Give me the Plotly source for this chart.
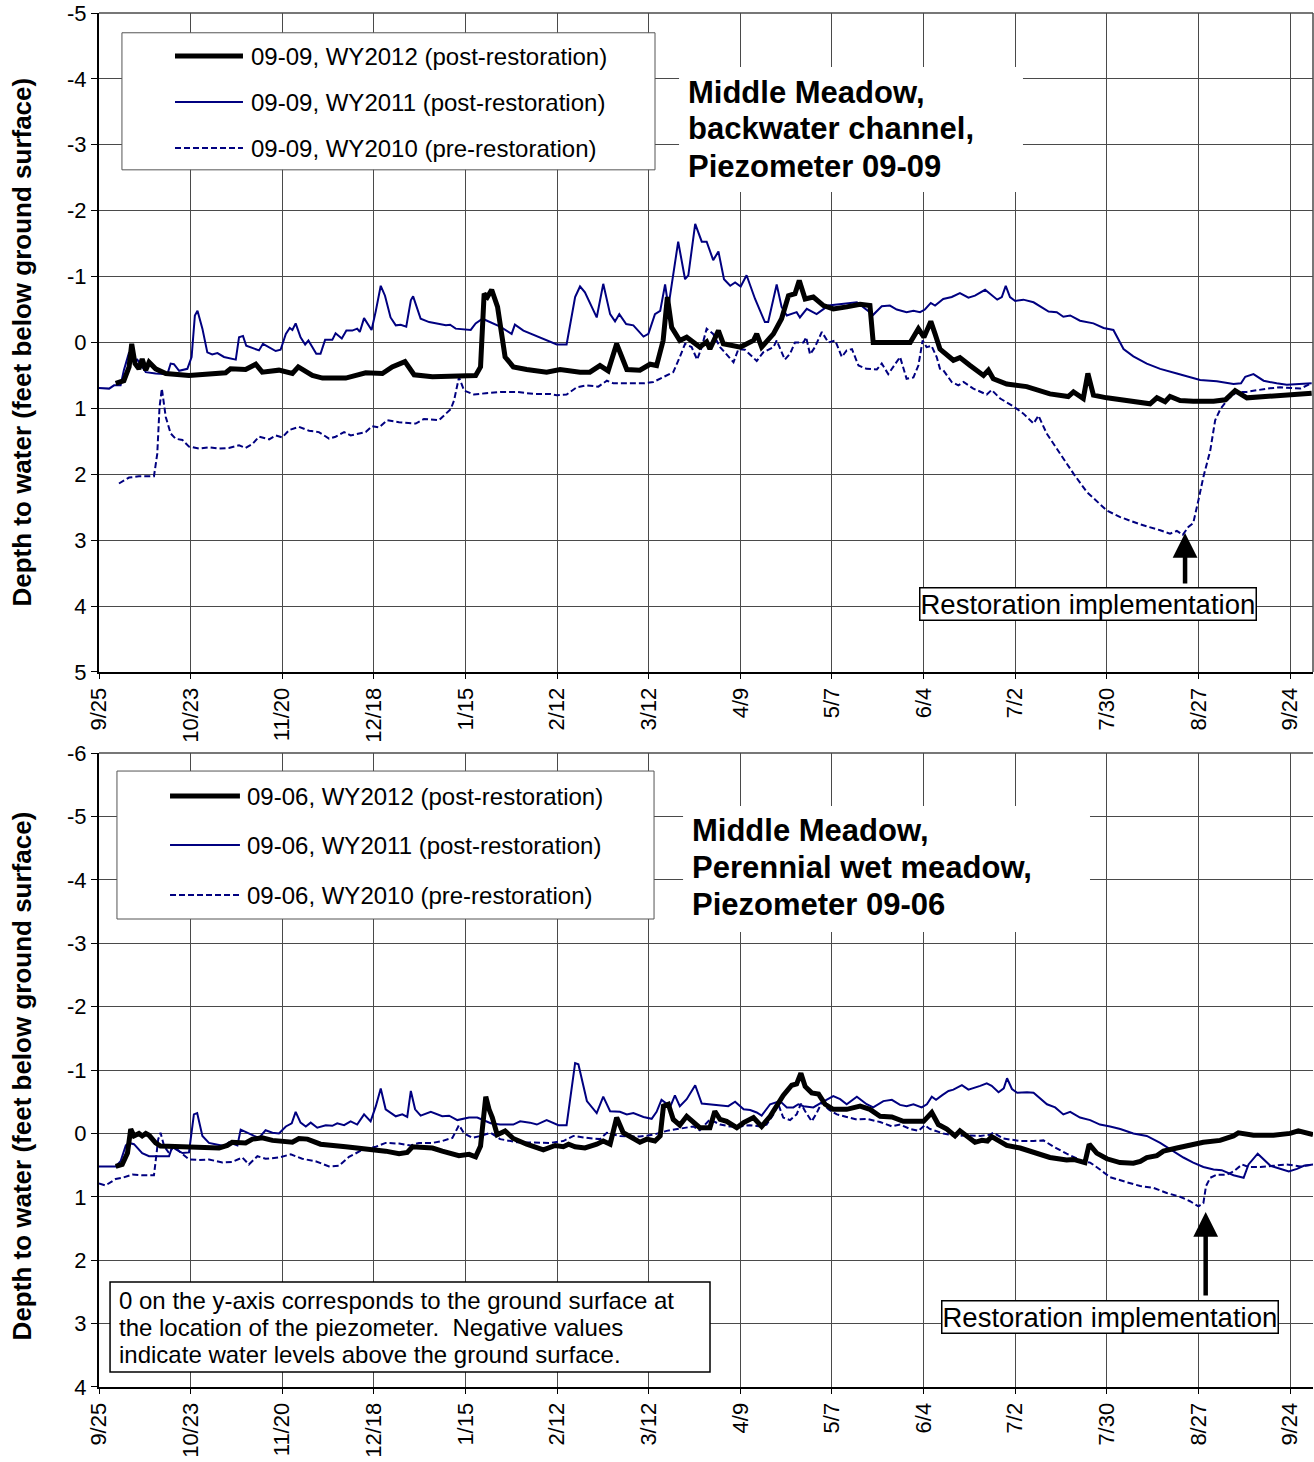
import plotly.graph_objects as go

FONT = "Liberation Sans, Arial, sans-serif"
NAVY = "#000080"
GRID = "#4a4a4a"

# x axis: days since 9/25 (water-year days), labelled every 28 days
TICK_DAYS = [0, 28, 56, 84, 112, 140, 168, 196, 224, 252, 280, 308, 336, 364]
TICK_LABELS = ["9/25", "10/23", "11/20", "12/18", "1/15", "2/12", "3/12",
               "4/9", "5/7", "6/4", "7/2", "7/30", "8/27", "9/24"]
TOP_Y_TICKS = [-5, -4, -3, -2, -1, 0, 1, 2, 3, 4, 5]
TOP_Y_LABELS = ["-5", "-4", "-3", "-2", "-1", "0", "1", "2", "3", "4", "5"]
BOT_Y_TICKS = [-6, -5, -4, -3, -2, -1, 0, 1, 2, 3, 4]
BOT_Y_LABELS = ["-6", "-5", "-4", "-3", "-2", "-1", "0", "1", "2", "3", "4"]

# ---------------- Piezometer 09-09 (backwater channel) ----------------
p0909_wy2012_day = [5.1, 7.6, 9.2, 10, 11, 12.2, 13.2, 14.3, 15.3, 17.3, 20.4, 27.5, 38.7, 40.2, 44.8, 47.9, 49.9, 55,
                    59.1, 60.9, 65.2, 68.3, 75.4, 81.5, 86.6, 89.6, 93.5, 96.3, 101.9, 115.1, 116.6, 117.7, 118.7, 120,
                    121.8, 123.3, 124.1, 126.6, 130.7, 136.8, 140.9, 147, 150, 153.1, 155.6, 158.2, 161.3, 165.3, 168.4,
                    170.4, 172.4, 173.7, 175, 177.5, 179.6, 183.6, 185.7, 186.7, 189.3, 190.8, 196, 200, 201, 202.5,
                    206.1, 208.6, 210.7, 212.7, 214, 215.8, 218.3, 221.4, 224.4, 228.5, 232.6, 235.6, 236.6, 247.9,
                    250.4, 252.1, 254.2, 255.5, 257, 261.1, 263.1, 266.2, 270.3, 271.8, 273.3, 277.4, 283.5, 290.6,
                    296.2, 297.8, 300.8, 302.2, 303.9, 308, 316.1, 321.2, 323.3, 325.8, 327.3, 330.4, 334.4, 340.6,
                    344.2, 347.2, 350.8, 356.9, 365, 370.6]
p0909_wy2012_ft = [0.62, 0.58, 0.37, 0.02, 0.32, 0.40, 0.25, 0.42, 0.30, 0.40, 0.47, 0.50, 0.46, 0.40, 0.41, 0.33, 0.45,
                   0.42, 0.47, 0.37, 0.50, 0.54, 0.54, 0.46, 0.47, 0.37, 0.29, 0.49, 0.52, 0.50, 0.37, -0.74, -0.69,
                   -0.80, -0.54, -0.03, 0.22, 0.37, 0.41, 0.45, 0.41, 0.45, 0.45, 0.35, 0.43, 0.02, 0.41, 0.42, 0.33,
                   0.35, -0.03, -0.69, -0.23, -0.03, -0.08, 0.07, -0.01, 0.10, -0.18, 0.02, 0.07, -0.03, -0.13, 0.07,
                   -0.13, -0.36, -0.71, -0.74, -0.94, -0.66, -0.69, -0.56, -0.51, -0.54, -0.58, -0.56, 0.0, 0.0,
                   -0.21, -0.08, -0.32, -0.13, 0.10, 0.27, 0.23, 0.35, 0.50, 0.42, 0.55, 0.63, 0.67, 0.78, 0.82, 0.75,
                   0.85, 0.47, 0.80, 0.84, 0.89, 0.93, 0.84, 0.90, 0.82, 0.88, 0.89, 0.89, 0.87, 0.73, 0.84, 0.82,
                   0.78, 0.77]

p0909_wy2011_day = [0, 3.1, 4.6, 6.6, 7.6, 9.2, 10.7, 11.7, 14.3, 17.3, 20.9, 21.9, 22.9, 24.5, 27, 28.3, 29.3, 30.1,
                    31.6, 33.1, 34.6, 36.2, 38.2, 41.8, 42.8, 44, 45, 48.9, 50.1, 52, 54, 55.5, 57.1, 58.3, 59.1, 60.1,
                    61.6, 63, 64, 66.4, 67.7, 69.1, 71.3, 72.3, 74.2, 75.6, 77.4, 78.9, 79.7, 81, 83.3, 84.6, 86.1,
                    87.4, 89.1, 90.7, 92.2, 93.9, 95.3, 96, 98.3, 100.9, 106, 107.3, 109, 113.6, 115.1, 117.2, 120.2,
                    122.6, 126.1, 127.1, 129.7, 131.7, 132.7, 136.8, 139.9, 142.9, 145.5, 147, 148.5, 152.1, 154.1,
                    156.2, 157.7, 159, 161.1, 163.3, 166.4, 167.9, 169.9, 171.5, 173, 174, 177, 179.1, 180.1, 182.2,
                    184.2, 185.7, 187.7, 189.3, 191, 192.9, 194.4, 196.1, 197.9, 200.5, 203.5, 204.5, 207.1, 208.6,
                    210.2, 213.2, 214.2, 216.3, 219.3, 222.9, 227.5, 231.6, 236.6, 239.2, 241.7, 243.8, 246.8, 248.9,
                    250.9, 252.4, 254.2, 255.5, 258, 260.6, 263.1, 265.7, 267.7, 270.8, 272.3, 274.5, 275.9, 277.1,
                    278.4, 280, 282.5, 285.6, 290.2, 292.7, 294.7, 296.8, 299.8, 301.9, 303.9, 307, 310, 313.1, 316.1,
                    320.2, 324.3, 329.4, 333.4, 336.5, 341.6, 346.7, 349, 350.3, 352.8, 355.9, 359.9, 363, 370.6]
p0909_wy2011_ft = [0.69, 0.70, 0.65, 0.65, 0.42, 0.15, 0.27, 0.26, 0.45, 0.47, 0.48, 0.32, 0.33, 0.43, 0.40, 0.22,
                   -0.41, -0.48, -0.21, 0.15, 0.18, 0.16, 0.22, 0.26, -0.08, -0.10, 0.05, 0.12, 0.02, 0.07, 0.13, 0.11,
                   -0.13, -0.22, -0.19, -0.29, -0.08, 0.03, -0.03, 0.17, 0.17, -0.04, -0.04, -0.14, -0.06, -0.18,
                   -0.18, -0.21, -0.16, -0.37, -0.19, -0.48, -0.86, -0.71, -0.38, -0.26, -0.27, -0.24, -0.64, -0.70,
                   -0.36, -0.31, -0.26, -0.27, -0.21, -0.19, -0.29, -0.36, -0.29, -0.24, -0.13, -0.27, -0.18, -0.14,
                   -0.11, -0.04, 0.03, 0.03, -0.69, -0.85, -0.76, -0.38, -0.89, -0.43, -0.32, -0.43, -0.28, -0.26,
                   -0.09, -0.13, -0.43, -0.48, -0.88, -0.54, -1.53, -0.96, -1.02, -1.80, -1.53, -1.53, -1.25, -1.38,
                   -0.96, -0.86, -0.91, -0.85, -1.02, -0.66, -0.31, -0.31, -0.88, -0.54, -0.41, -0.46, -0.38, -0.51,
                   -0.43, -0.56, -0.59, -0.61, -0.42, -0.55, -0.56, -0.50, -0.46, -0.48, -0.46, -0.50, -0.60, -0.56,
                   -0.66, -0.69, -0.75, -0.68, -0.71, -0.80, -0.74, -0.65, -0.69, -0.86, -0.69, -0.63, -0.65, -0.61,
                   -0.47, -0.46, -0.39, -0.41, -0.33, -0.31, -0.29, -0.22, -0.19, 0.10, 0.21, 0.32, 0.40, 0.47, 0.53,
                   0.57, 0.59, 0.63, 0.62, 0.52, 0.48, 0.58, 0.62, 0.64, 0.62]

p0909_wy2010_day = [6.1, 9.2, 12.2, 16.8, 17.8, 18.5, 19.2, 20.4, 21.9, 23.4, 25.5, 27.5, 30.6, 33.6, 36.7, 39.7, 42.8,
                    44.8, 46.9, 48.9, 52, 54, 56, 58.1, 61.1, 64.2, 67.2, 70.3, 72.3, 74.9, 76.9, 81.5, 83.5, 85.6,
                    88.1, 91.7, 96.8, 99.3, 103.9, 105.4, 107.5, 108.5, 110, 111.6, 114.6, 118.2, 122.6, 127.7, 132.7,
                    137.8, 139.9, 142.9, 146, 149, 152.6, 155.2, 157.2, 161.3, 166.4, 169.4, 172.4, 175.5, 177.5,
                    179.1, 181.1, 182.8, 184.2, 185.7, 187.7, 189.8, 193.9, 195.4, 197.4, 201, 203, 206.1, 207.1,
                    209.6, 211.2, 212.7, 215.3, 216.1, 217.3, 218.8, 220.9, 222.9, 225, 227, 228.5, 230.1, 232.1,
                    234.6, 237.7, 239.2, 241.2, 242.8, 244.8, 246.8, 248.9, 250.4, 251.7, 252.9, 254.4, 256, 257, 258,
                    260.6, 262.6, 264.2, 267.2, 271.3, 272.8, 275.4, 279.5, 282.5, 285.6, 287.1, 289.6, 293.7, 297.8,
                    301.9, 308, 312.1, 318.2, 324.3, 327.3, 329.4, 331.2, 332.9, 334.4, 336, 337.5, 339.6, 341.1,
                    342.7, 345.2, 347.8, 350.8, 356.9, 361, 367.1, 370.1]
p0909_wy2010_ft = [2.14, 2.05, 2.03, 2.03, 1.69, 0.98, 0.70, 1.13, 1.38, 1.46, 1.48, 1.58, 1.61, 1.59, 1.61, 1.60, 1.56,
                   1.60, 1.54, 1.43, 1.47, 1.41, 1.44, 1.33, 1.28, 1.34, 1.36, 1.46, 1.43, 1.36, 1.41, 1.36, 1.27, 1.29,
                   1.18, 1.21, 1.23, 1.16, 1.18, 1.11, 1.01, 0.88, 0.53, 0.73, 0.79, 0.77, 0.75, 0.75, 0.78, 0.78, 0.80,
                   0.79, 0.68, 0.65, 0.67, 0.58, 0.62, 0.62, 0.62, 0.60, 0.53, 0.45, 0.22, 0.02, 0.07, 0.26, 0.07,
                   -0.21, -0.13, 0.07, 0.30, 0.10, 0.11, 0.28, 0.15, 0.07, -0.03, 0.26, 0.17, 0.0, 0.0, -0.08, 0.18,
                   0.07, -0.16, 0.0, -0.03, 0.22, 0.12, 0.10, 0.35, 0.40, 0.41, 0.32, 0.48, 0.37, 0.22, 0.55, 0.53,
                   0.35, -0.03, 0.07, 0.05, 0.22, 0.40, 0.42, 0.60, 0.65, 0.60, 0.70, 0.79, 0.72, 0.85, 0.97, 1.08,
                   1.23, 1.11, 1.38, 1.69, 1.99, 2.27, 2.55, 2.65, 2.76, 2.85, 2.90, 2.86, 2.92, 2.80, 2.74, 2.39,
                   2.04, 1.64, 1.18, 1.01, 0.85, 0.75, 0.75, 0.70, 0.68, 0.70, 0.63]

# ---------------- Piezometer 09-06 (perennial wet meadow) ----------------
p0906_wy2012_day = [5.1, 7.1, 8.7, 9.7, 10.7, 12.2, 13.2, 14.3, 15.3, 17.3, 18.8, 22.4, 30.6, 36.7, 39.2, 40.7, 44.8,
                    46.9, 49.9, 53, 59.1, 61.1, 63.7, 67.7, 75.4, 81.5, 87.6, 91.7, 94.2, 95.8, 101.9, 104.9, 110,
                    113.1, 115.1, 116.6, 118.2, 119.2, 120.2, 121.7, 124.1, 126.6, 130.7, 135.8, 139.4, 141.9, 143.5,
                    145.5, 148.5, 152.1, 154.1, 156.2, 158.2, 160.2, 163.3, 165.3, 167.4, 169.9, 171.5, 172.5, 174,
                    175.5, 177.5, 179.6, 183.6, 186.7, 188.2, 189.8, 191.8, 194.9, 197, 200, 202.5, 205.1, 209.1,
                    211.7, 213.2, 214.5, 215.8, 217.8, 219.9, 221.9, 224.4, 228.5, 232.6, 235.6, 238.7, 242.3, 245.8,
                    247.9, 252, 254.5, 256.5, 259.1, 261.6, 263.1, 265.2, 267.7, 269.8, 271.5, 272.8, 277.4, 281.5,
                    285.6, 290.6, 295.7, 297.8, 301.3, 302.6, 304.9, 308, 312, 316.1, 318.2, 320.2, 323.3, 325.3, 329.4,
                    333.4, 337.5, 342.6, 346.7, 348.2, 352.8, 358.9, 364, 366.5, 371]
p0906_wy2012_ft = [0.52, 0.49, 0.31, -0.07, 0.04, 0.0, 0.04, 0.0, 0.03, 0.15, 0.20, 0.21, 0.23, 0.23, 0.19, 0.14, 0.15,
                   0.09, 0.07, 0.11, 0.14, 0.08, 0.09, 0.17, 0.21, 0.24, 0.28, 0.32, 0.30, 0.21, 0.23, 0.28, 0.35, 0.33,
                   0.37, 0.20, -0.58, -0.38, -0.25, 0.02, -0.04, 0.08, 0.17, 0.26, 0.19, 0.21, 0.17, 0.21, 0.23, 0.17,
                   0.12, 0.17, -0.25, -0.01, 0.08, 0.14, 0.09, 0.12, 0.04, -0.43, -0.46, -0.22, -0.13, -0.27, -0.09,
                   -0.09, -0.35, -0.22, -0.19, -0.09, -0.17, -0.25, -0.11, -0.27, -0.60, -0.76, -0.78, -0.95, -0.74,
                   -0.64, -0.62, -0.46, -0.38, -0.38, -0.43, -0.38, -0.27, -0.26, -0.19, -0.19, -0.19, -0.33, -0.14,
                   -0.07, 0.04, -0.04, 0.05, 0.14, 0.11, 0.12, 0.05, 0.19, 0.23, 0.30, 0.38, 0.42, 0.41, 0.46, 0.17,
                   0.31, 0.40, 0.46, 0.47, 0.44, 0.38, 0.35, 0.28, 0.23, 0.19, 0.14, 0.11, 0.04, -0.01, 0.03, 0.03,
                   0.0, -0.04, 0.02]

p0906_wy2011_day = [0, 5.1, 6.6, 8.2, 9.2, 10.7, 13.2, 15.3, 21.4, 22.4, 23.4, 25.5, 27.5, 29, 30, 31.6, 33.6, 36.7,
                    38.2, 39.7, 42.3, 43.3, 44.8, 47.4, 48.9, 50.9, 53, 55, 57.1, 58.9, 60.1, 61.6, 63.2, 64.7, 66.7,
                    69.3, 71.3, 72.8, 74.9, 76.9, 78.9, 81, 83, 84.6, 86.1, 87.6, 90.7, 92.7, 94.2, 95.3, 96.6, 98.3,
                    101.4, 104.9, 107, 109.5, 113.1, 115.6, 119.7, 122.6, 126.6, 128.7, 131.7, 133.8, 136.8, 140.4,
                    142.9, 144.5, 145.5, 146.5, 149.1, 152.1, 154.1, 156.2, 159.2, 161.3, 163.3, 166.4, 168.9, 170.4,
                    171.9, 173.5, 174.5, 176, 177.5, 179.6, 182.2, 184.2, 186.7, 189.8, 192.3, 194.4, 197, 199, 201,
                    202.5, 205.1, 208.1, 210.2, 212.2, 213.7, 215.3, 218.3, 220.9, 222.9, 224.4, 226.5, 228.5, 231.6,
                    234.6, 236.6, 239.7, 242.3, 244.8, 246.8, 248.9, 251.4, 253, 254.5, 255.8, 257.6, 259.6, 261.1,
                    263.7, 265.7, 267.7, 269.3, 271.3, 272.8, 274.9, 276.5, 277.5, 279, 280.6, 283.6, 285.6, 289.7,
                    292.2, 294.7, 296.8, 299.8, 302.9, 305.9, 309, 312.1, 316.1, 320.2, 324.3, 327.3, 331.4, 334.4,
                    337.5, 340.6, 343.1, 346.7, 349.8, 351.3, 354.1, 358, 361, 363.6, 366.1, 368.2, 371.2]
p0906_wy2011_ft = [0.52, 0.52, 0.44, 0.19, 0.15, 0.17, 0.31, 0.36, 0.36, 0.21, 0.25, 0.31, 0.30, -0.30, -0.32, 0.04,
                   0.15, 0.19, 0.20, 0.14, 0.19, -0.06, -0.02, 0.04, 0.07, -0.05, -0.01, 0.0, -0.11, -0.16, -0.34,
                   -0.17, -0.11, -0.17, -0.09, -0.13, -0.12, -0.16, -0.13, -0.19, -0.14, -0.30, -0.19, -0.43, -0.71,
                   -0.38, -0.27, -0.30, -0.26, -0.67, -0.38, -0.28, -0.34, -0.27, -0.28, -0.21, -0.25, -0.25, -0.16,
                   -0.14, -0.14, -0.19, -0.17, -0.14, -0.21, -0.13, -0.13, -0.75, -1.11, -1.09, -0.51, -0.32, -0.58,
                   -0.35, -0.34, -0.30, -0.32, -0.26, -0.23, -0.34, -0.53, -0.47, -0.41, -0.60, -0.43, -0.54, -0.76,
                   -0.47, -0.46, -0.44, -0.43, -0.50, -0.38, -0.37, -0.33, -0.28, -0.46, -0.51, -0.41, -0.41, -0.46,
                   -0.43, -0.41, -0.49, -0.55, -0.59, -0.54, -0.46, -0.58, -0.46, -0.41, -0.51, -0.53, -0.45, -0.43,
                   -0.46, -0.41, -0.46, -0.58, -0.53, -0.60, -0.67, -0.69, -0.76, -0.69, -0.72, -0.75, -0.79, -0.75,
                   -0.65, -0.71, -0.87, -0.70, -0.64, -0.65, -0.64, -0.46, -0.41, -0.30, -0.34, -0.25, -0.21, -0.14,
                   -0.11, -0.07, 0.0, 0.04, 0.15, 0.25, 0.38, 0.46, 0.53, 0.57, 0.58, 0.66, 0.70, 0.49, 0.32, 0.51,
                   0.56, 0.60, 0.56, 0.51, 0.49]

p0906_wy2010_day = [0, 2, 5.1, 7.1, 10.2, 13.2, 16.8, 17.5, 18.1, 18.8, 19.9, 21.4, 22.9, 24.5, 27.5, 30.6, 33.6, 37.7,
                    40.7, 43.8, 45.8, 48.4, 50.9, 55, 58.6, 62.1, 66.2, 70.3, 73.3, 76.4, 80.5, 84.6, 87.6, 91.7, 95.3,
                    97.8, 101.9, 104.9, 108, 110, 111.6, 114.1, 116.6, 119.7, 122.6, 127.7, 132.7, 137.8, 141.9, 145,
                    149, 153.1, 155.2, 159.2, 165.3, 169.4, 173.5, 177.5, 181.6, 183.6, 186.7, 189.8, 192.8, 195.9,
                    198.9, 202, 204, 206.1, 207.6, 209.1, 211.2, 213.2, 214.5, 215.8, 217.8, 219.3, 220.9, 222.9,
                    225.5, 228.5, 231.6, 234.6, 238.7, 242.3, 244.8, 247.9, 250.4, 252.4, 253.9, 258, 261.6, 265.2,
                    269.3, 272.3, 273.3, 276.4, 281.5, 285.6, 288.6, 291.7, 295.7, 300.8, 302.9, 305.9, 309, 314.1,
                    318.2, 322.3, 326.3, 330.4, 333.4, 336, 337.5, 338.3, 339.6, 341.6, 344.7, 346.7, 349.3, 351.3,
                    354.9, 359, 363, 367.1, 371.2]
p0906_wy2010_ft = [0.79, 0.82, 0.72, 0.70, 0.65, 0.66, 0.66, 0.36, 0.09, -0.01, 0.20, 0.31, 0.20, 0.28, 0.41, 0.42,
                   0.41, 0.46, 0.45, 0.38, 0.49, 0.36, 0.40, 0.38, 0.33, 0.40, 0.44, 0.52, 0.51, 0.37, 0.26, 0.21,
                   0.15, 0.16, 0.19, 0.15, 0.15, 0.12, 0.07, -0.13, 0.0, 0.07, 0.04, -0.01, 0.09, 0.14, 0.15, 0.15,
                   0.12, 0.04, 0.07, 0.09, -0.01, 0.04, 0.05, 0.02, -0.04, -0.07, -0.11, -0.05, -0.22, -0.14, -0.11,
                   -0.11, -0.13, -0.11, -0.14, -0.30, -0.46, -0.25, -0.21, -0.30, -0.47, -0.35, -0.19, -0.32, -0.49,
                   -0.38, -0.30, -0.26, -0.22, -0.23, -0.18, -0.11, -0.14, -0.07, -0.04, -0.13, -0.07, 0.0, 0.04, 0.03,
                   0.04, 0.02, -0.01, 0.08, 0.12, 0.12, 0.11, 0.21, 0.32, 0.44, 0.46, 0.57, 0.69, 0.77, 0.83, 0.86,
                   0.94, 1.00, 1.07, 1.15, 1.10, 0.83, 0.70, 0.65, 0.65, 0.60, 0.49, 0.53, 0.53, 0.51, 0.49, 0.52,
                   0.49]

TOP_NAMES = ["09-09, WY2012 (post-restoration)", "09-09, WY2011 (post-restoration)",
             "09-09, WY2010 (pre-restoration)"]
BOT_NAMES = ["09-06, WY2012 (post-restoration)", "09-06, WY2011 (post-restoration)",
             "09-06, WY2010 (pre-restoration)"]
TOP_TITLE = ["Middle Meadow,", "backwater channel,", "Piezometer 09-09"]
BOT_TITLE = ["Middle Meadow,", "Perennial wet meadow,", "Piezometer 09-06"]
Y_TITLE = "<b>Depth to water (feet below ground surface)</b>"
NOTE = ["0 on the y-axis corresponds to the ground surface at",
        "the location of the piezometer.  Negative values",
        "indicate water levels above the ground surface."]
RESTORATION = "Restoration implementation"

STYLES = [dict(color="black", width=5),
          dict(color=NAVY, width=2),
          dict(color=NAVY, width=2, dash="6px,3px")]

fig = go.Figure()

top_series = [(p0909_wy2012_day, p0909_wy2012_ft), (p0909_wy2011_day, p0909_wy2011_ft),
              (p0909_wy2010_day, p0909_wy2010_ft)]
bot_series = [(p0906_wy2012_day, p0906_wy2012_ft), (p0906_wy2011_day, p0906_wy2011_ft),
              (p0906_wy2010_day, p0906_wy2010_ft)]

# draw pre-restoration first so the thick WY2012 line sits on top
for i in [2, 1, 0]:
    d, v = top_series[i]
    fig.add_trace(go.Scatter(x=d, y=v, mode="lines", name=TOP_NAMES[i], line=STYLES[i],
                             xaxis="x", yaxis="y", showlegend=False))
for i in [2, 1, 0]:
    d, v = bot_series[i]
    fig.add_trace(go.Scatter(x=d, y=v, mode="lines", name=BOT_NAMES[i], line=STYLES[i],
                             xaxis="x2", yaxis="y2", showlegend=False))

xcommon = dict(range=[0, 371], tickmode="array", tickvals=TICK_DAYS, ticktext=TICK_LABELS,
               tickangle=-90, showgrid=True, gridcolor=GRID, gridwidth=1, showline=True,
               linecolor="black", linewidth=2, ticks="outside", ticklen=5, tickcolor="black",
               tickfont=dict(family=FONT, size=22, color="black"), zeroline=False, automargin=False,
               ticklabeloverflow="allow")
ycommon = dict(showgrid=True, gridcolor=GRID, gridwidth=1, showline=True, linecolor="black",
               linewidth=2, ticks="outside", ticklen=6, tickcolor="black", zeroline=False,
               tickfont=dict(family=FONT, size=22, color="black"), tickmode="array", automargin=False,
               ticklabeloverflow="allow")

fig.update_layout(
    width=1314, height=1462,
    margin=dict(l=99, r=1, t=13, b=75, autoexpand=False),
    paper_bgcolor="white", plot_bgcolor="white",
    showlegend=False,
    xaxis=dict(domain=[0, 1], anchor="y", **xcommon),
    yaxis=dict(domain=[0.5204, 1], anchor="x", range=[5, -5], tickvals=TOP_Y_TICKS,
               ticktext=TOP_Y_LABELS, **ycommon),
    xaxis2=dict(domain=[0, 1], anchor="y2", **xcommon),
    yaxis2=dict(domain=[0, 0.4614], anchor="x2", range=[4, -6], tickvals=BOT_Y_TICKS,
                ticktext=BOT_Y_LABELS, **ycommon),
)

shapes = []
annotations = []

# frame lines: right border of the upper plot and top edges of both plots
shapes.append(dict(type="line", xref="x domain", yref="y domain", x0=1, x1=1, y0=0, y1=1,
                   line=dict(color=GRID, width=1.5)))
shapes.append(dict(type="line", xref="x domain", yref="y domain", x0=0, x1=1, y0=1, y1=1,
                   line=dict(color=GRID, width=1.5)))
shapes.append(dict(type="line", xref="x2 domain", yref="y2 domain", x0=0, x1=1, y0=1, y1=1,
                   line=dict(color=GRID, width=1.5)))


def add_legend(xr, yr, box, sample_x, ys, text_x, names):
    shapes.append(dict(type="rect", xref=xr, yref=yr, x0=box[0], x1=box[1], y0=box[2], y1=box[3],
                       fillcolor="white", line=dict(color="#555555", width=1), layer="above"))
    for k, (yy, nm) in enumerate(zip(ys, names)):
        st = STYLES[k]
        shapes.append(dict(type="line", xref=xr, yref=yr, x0=sample_x[0], x1=sample_x[1], y0=yy, y1=yy,
                           line=dict(color=st["color"], width=st["width"], dash=st.get("dash", "solid")),
                           layer="above"))
        annotations.append(dict(xref=xr, yref=yr, x=text_x, y=yy, text=nm, showarrow=False,
                                xanchor="left", yanchor="middle",
                                font=dict(family=FONT, size=24, color="black")))


add_legend("x domain", "y domain", (0.0189, 0.458, 0.970, 0.762), (0.0626, 0.1186),
           [0.9347, 0.8649, 0.7951], 0.1235, TOP_NAMES)
add_legend("x2 domain", "y2 domain", (0.0148, 0.4572, 0.9716, 0.7382), (0.0585, 0.1161),
           [0.9322, 0.8549, 0.7760], 0.1202, BOT_NAMES)


def add_title(xr, yr, box, text_x, ys, lines):
    shapes.append(dict(type="rect", xref=xr, yref=yr, x0=box[0], x1=box[1], y0=box[2], y1=box[3],
                       fillcolor="white", line=dict(width=0), layer="above"))
    for yy, ln in zip(ys, lines):
        annotations.append(dict(xref=xr, yref=yr, x=text_x, y=yy, text="<b>" + ln + "</b>",
                                showarrow=False, xanchor="left", yanchor="middle",
                                font=dict(family=FONT, size=31, color="black")))


add_title("x domain", "y domain", (0.4778, 0.7611, 0.9181, 0.7284), 0.4835,
          [0.8801, 0.8240, 0.7678], TOP_TITLE)
add_title("x2 domain", "y2 domain", (0.4811, 0.8163, 0.9164, 0.7177), 0.4868,
          [0.8785, 0.8202, 0.7618], BOT_TITLE)

# y axis titles
for yr, yc in [("y domain", 0.5), ("y2 domain", 0.49)]:
    annotations.append(dict(xref="paper", yref=yr, x=-0.0634, y=yc,
                            text=Y_TITLE, textangle=-90, showarrow=False,
                            xanchor="center", yanchor="middle",
                            font=dict(family=FONT, size=26, color="black")))

# note box
shapes.append(dict(type="rect", xref="x2 domain", yref="y2 domain", x0=0.0091, x1=0.5033,
                   y0=0.1656, y1=0.0237, fillcolor="white", line=dict(color="black", width=1.5),
                   layer="above"))
for yy, ln in zip([0.1372, 0.0931, 0.0505], NOTE):
    annotations.append(dict(xref="x2 domain", yref="y2 domain", x=0.0148, y=yy, text=ln,
                            showarrow=False, xanchor="left", yanchor="middle",
                            font=dict(family=FONT, size=24, color="black")))

# restoration implementation arrows + labels
annotations.append(dict(xref="x", yref="y", x=331.9, y=2.89, text="", showarrow=True,
                        ax=0, ay=52, arrowhead=2, arrowsize=1.1, arrowwidth=4.5, arrowcolor="black"))
annotations.append(dict(xref="x domain", yref="y domain", x=0.8147, y=0.1032,
                        text=RESTORATION, showarrow=False,
                        xanchor="center", yanchor="middle", bgcolor="white", bordercolor="black",
                        borderwidth=1.5, borderpad=0, font=dict(family=FONT, size=27.5, color="black")))
annotations.append(dict(xref="x2", yref="y2", x=338.2, y=1.24, text="", showarrow=True,
                        ax=0, ay=85, arrowhead=2, arrowsize=1.1, arrowwidth=4.5, arrowcolor="black"))
annotations.append(dict(xref="x2 domain", yref="y2 domain", x=0.8324, y=0.1104,
                        text=RESTORATION, showarrow=False,
                        xanchor="center", yanchor="middle", bgcolor="white", bordercolor="black",
                        borderwidth=1.5, borderpad=0, font=dict(family=FONT, size=27.5, color="black")))

fig.update_layout(shapes=shapes, annotations=annotations)
# remove the browser's default 8px page margin so the figure sits at the window's top-left corner
fig.write_html("out.html", config={"displayModeBar": False},
               post_script="document.body.style.margin='0px';")
